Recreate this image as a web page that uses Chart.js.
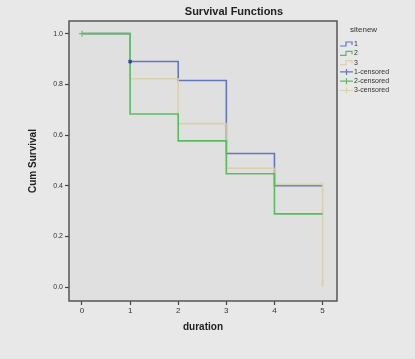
<!DOCTYPE html>
<html>
<head>
<meta charset="utf-8">
<script src="https://cdn.jsdelivr.net/npm/chart.js@4"></script>
<style>
html, body { margin: 0; padding: 0; background: #e8e8e8; }
#box { width: 415px; height: 359px; }
</style>
</head>
<body>
<div id="box"><canvas id="km" width="415" height="359"></canvas></div>
<script>
// Kaplan-Meier estimates per group
const times = [0, 1, 2, 3, 4, 5]
const site1 = [1.0, 0.89, 0.815, 0.527, 0.40, 0.40]
const site2 = [1.0, 0.683, 0.577, 0.447, 0.289, 0.289]
const site3 = [1.0, 0.822, 0.645, 0.469, 0.405, 0.0]
const cens1 = [{ x: 1, y: 0.89 }]
const cens2 = [{ x: 0, y: 1.0 }]
const cens3 = [{ x: 0, y: 1.0 }]
const xTicks = [0, 1, 2, 3, 4, 5]
const yTicks = [0, 0.2, 0.4, 0.6, 0.8, 1.0]
const legendLabels = ["1", "2", "3", "1-censored", "2-censored", "3-censored"]

const blue = "rgb(98,118,196)"
const green = "rgb(88,190,92)"
const tan = "rgba(214,206,160,0.85)"
const font = "'Liberation Sans', Arial, sans-serif"

const toPts = (ys) => ys.map((y, i) => ({ x: times[i], y: y }))

const frame = {
    id: "frame",
    beforeDatasetsDraw(chart) {
        const a = chart.chartArea
        const c = chart.ctx
        c.save()
        c.fillStyle = "#e0e0e0"
        c.fillRect(a.left, a.top, a.right - a.left, a.bottom - a.top)
        c.restore()
    },
    afterDraw(chart) {
        const a = chart.chartArea
        const c = chart.ctx
        c.save()
        c.strokeStyle = "#555"
        c.lineWidth = 1.5
        c.strokeRect(a.left, a.top, a.right - a.left, a.bottom - a.top)

        // title
        c.fillStyle = "#222"
        c.font = "bold 11px " + font
        c.textAlign = "center"
        c.textBaseline = "middle"
        c.fillText("Survival Functions", 234, 12)

        // legend
        const colors = [blue, green, tan, blue, green, tan]
        c.font = "8px " + font
        c.textAlign = "left"
        c.fillStyle = "#333"
        c.fillText("sitenew", 350, 30)
        c.font = "7px " + font
        legendLabels.forEach((lab, i) => {
            const y = 44 + i * 9.3
            c.strokeStyle = colors[i]
            c.lineWidth = 1.2
            c.beginPath()
            if (i < 3) {
                c.moveTo(340, y + 2)
                c.lineTo(346, y + 2)
                c.lineTo(346, y - 2)
                c.lineTo(352, y - 2)
                c.lineTo(352, y + 1)
            } else {
                c.moveTo(340, y)
                c.lineTo(353, y)
                c.moveTo(346.5, y - 3)
                c.lineTo(346.5, y + 3)
            }
            c.stroke()
            c.fillStyle = "#333"
            c.fillText(lab, 354, y)
        })
        c.restore()
    }
}

const ctx = document.getElementById("km")
new Chart(ctx, {
    type: "line",
    data: {
        datasets: [
            { label: "1", data: toPts(site1), borderColor: blue, stepped: true, order: 3 },
            { label: "2", data: toPts(site2), borderColor: green, stepped: true, order: 1 },
            { label: "3", data: toPts(site3), borderColor: tan, stepped: true, order: 2 },
            { label: "1-censored", data: cens1, showLine: false, pointStyle: "crossRot", pointRadius: 2, borderColor: "rgb(50,70,160)", borderWidth: 2, order: 0 },
            { label: "2-censored", data: cens2, showLine: false, pointStyle: "cross", pointRadius: 3, borderColor: green, borderWidth: 1, order: 0 },
            { label: "3-censored", data: cens3, showLine: false, pointStyle: "cross", pointRadius: 3, borderColor: tan, borderWidth: 1, order: 0 }
        ]
    },
    options: {
        responsive: false,
        animation: false,
        layout: { padding: { top: 21, right: 78, left: 0, bottom: 0 } },
        elements: {
            line: { borderWidth: 1.6, fill: false },
            point: { radius: 0 }
        },
        plugins: {
            legend: { display: false },
            tooltip: { enabled: false }
        },
        scales: {
            x: {
                type: "linear",
                min: -0.27,
                max: 5.3,
                afterBuildTicks(s) { s.ticks = xTicks.map(v => ({ value: v })) },
                afterFit(s) { s.height = 58 },
                ticks: { color: "#333", font: { size: 8, family: font }, padding: 1, callback: v => String(v) },
                grid: { drawOnChartArea: false, drawTicks: true, tickLength: 4, color: "#444", tickWidth: 1.2 },
                border: { display: false },
                title: { display: true, text: "duration", color: "#222", font: { size: 10, weight: "bold", family: font }, padding: { top: 0, bottom: 26 } }
            },
            y: {
                min: -0.055,
                max: 1.05,
                afterBuildTicks(s) { s.ticks = yTicks.map(v => ({ value: v })) },
                afterFit(s) { s.width = 69 },
                ticks: { color: "#333", font: { size: 7, family: font }, padding: 2, callback: v => v.toFixed(1) },
                grid: { drawOnChartArea: false, drawTicks: true, tickLength: 4, color: "#444", tickWidth: 1.2 },
                border: { display: false },
                title: { display: true, text: "Cum Survival", color: "#222", font: { size: 10, weight: "bold", family: font }, padding: { top: 27, bottom: 0 } }
            }
        }
    },
    plugins: [frame]
})
</script>
</body>
</html>
